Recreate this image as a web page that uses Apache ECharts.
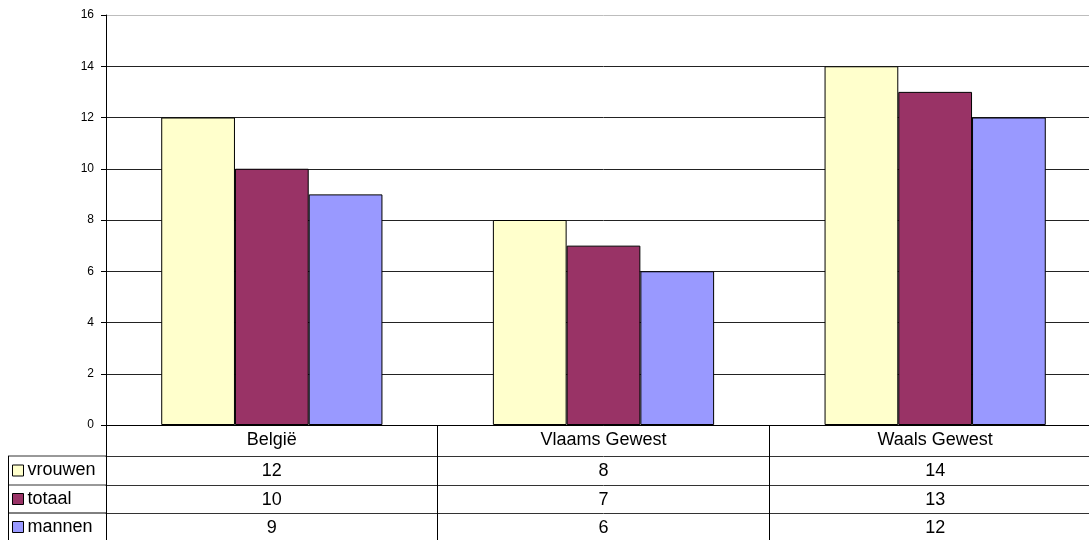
<!DOCTYPE html>
<html>
<head>
<meta charset="utf-8">
<script src="https://cdn.jsdelivr.net/npm/echarts@6/dist/echarts.min.js"></script>
<style>
html,body{margin:0;padding:0;background:#fff;overflow:hidden;width:1089px;height:540px;}
#chart{width:1101px;height:540px;}
</style>
</head>
<body>
<div id="chart"></div>
<script>
// ---- data ----
const categories = ['België', 'Vlaams Gewest', 'Waals Gewest'];
const seriesNames = ['vrouwen', 'totaal', 'mannen'];
const vrouwen = [12, 8, 14];
const totaal = [10, 7, 13];
const mannen = [9, 6, 12];
const yTicks = [0, 2, 4, 6, 8, 10, 12, 14, 16];

const seriesData = [vrouwen, totaal, mannen];
const colors = ['#FFFFCC', '#993366', '#9999FF'];
const FONT = "'Liberation Sans', Arial, sans-serif";
const TABLE_FS = 18;
const rowOffsets = [31, 60, 88];      // table row lines below the x axis
const rowCenters = [45.5, 74, 102];   // centres of table rows below the x axis

const chart = echarts.init(document.getElementById('chart'), null, {renderer: 'canvas'});

const gridLeft = 106, gridTop = 15, gridHeight = 410;

const xAxes = [{
  type: 'category',
  data: categories,
  position: 'bottom',
  boundaryGap: true,
  axisLine: {show: true, lineStyle: {color: '#000', width: 1}},
  axisTick: {show: true, interval: 0, length: 115, lineStyle: {color: '#000', width: 1}},
  axisLabel: {interval: 0, margin: 6, color: '#000', fontSize: TABLE_FS, fontFamily: FONT},
  splitLine: {show: false}
}];
seriesData.forEach((arr, k) => {
  xAxes.push({
    type: 'category',
    data: categories,
    position: 'bottom',
    offset: rowOffsets[k],
    boundaryGap: true,
    axisLine: {show: true, lineStyle: {color: '#333', width: 1}},
    axisTick: {show: false},
    axisLabel: {interval: 0, margin: 6, color: '#000', fontSize: TABLE_FS, fontFamily: FONT,
      formatter: (v, i) => String(arr[i])},
    splitLine: {show: false}
  });
});

const legends = seriesNames.map((n, k) => ({
  data: [n],
  orient: 'vertical',
  left: 12,
  top: gridTop + gridHeight + rowCenters[k] - 9,
  padding: 0,
  itemWidth: 11,
  itemHeight: 11,
  itemGap: 0,
  icon: 'rect',
  selectedMode: false,
  itemStyle: {borderColor: '#000', borderWidth: 1},
  textStyle: {color: '#000', fontSize: TABLE_FS, fontFamily: FONT, padding: [0, 0, 0, -1]}
}));

const splitColors = yTicks.map((t, i) => i === yTicks.length - 1 ? '#bdbdbd' : '#222');

chart.setOption({
  animation: false,
  backgroundColor: '#fff',
  textStyle: {fontFamily: FONT},
  grid: {left: gridLeft, top: gridTop, right: 0, height: gridHeight, containLabel: false},
  legend: legends,
  xAxis: xAxes,
  yAxis: {
    type: 'value',
    min: yTicks[0],
    max: yTicks[yTicks.length - 1],
    interval: 2,
    axisLine: {show: true, lineStyle: {color: '#000', width: 1}},
    axisTick: {show: true, length: 5, lineStyle: {color: '#000'}},
    axisLabel: {color: '#000', fontSize: 12, margin: 12, fontFamily: FONT},
    splitLine: {show: true, lineStyle: {color: splitColors, width: 1}}
  },
  series: seriesNames.map((n, k) => ({
    name: n,
    type: 'bar',
    data: seriesData[k],
    barGap: '0%',
    barCategoryGap: '33.3%',
    itemStyle: {color: colors[k], borderColor: '#000', borderWidth: 1}
  }))
});

// legend column of the data table
const y0 = chart.convertToPixel({yAxisIndex: 0}, 0);
const tableLeft = 8;
const g = [];
rowOffsets.forEach((o, k) => {
  g.push({type: 'line', shape: {x1: tableLeft, y1: y0 + o, x2: gridLeft, y2: y0 + o},
    style: {stroke: k === 2 ? '#000' : '#333', lineWidth: 1}, silent: true});
});
g.push({type: 'line', shape: {x1: tableLeft + 0.5, y1: y0 + rowOffsets[0], x2: tableLeft + 0.5, y2: 540},
  style: {stroke: '#000', lineWidth: 1}, silent: true});
chart.setOption({graphic: g});
</script>
</body>
</html>
